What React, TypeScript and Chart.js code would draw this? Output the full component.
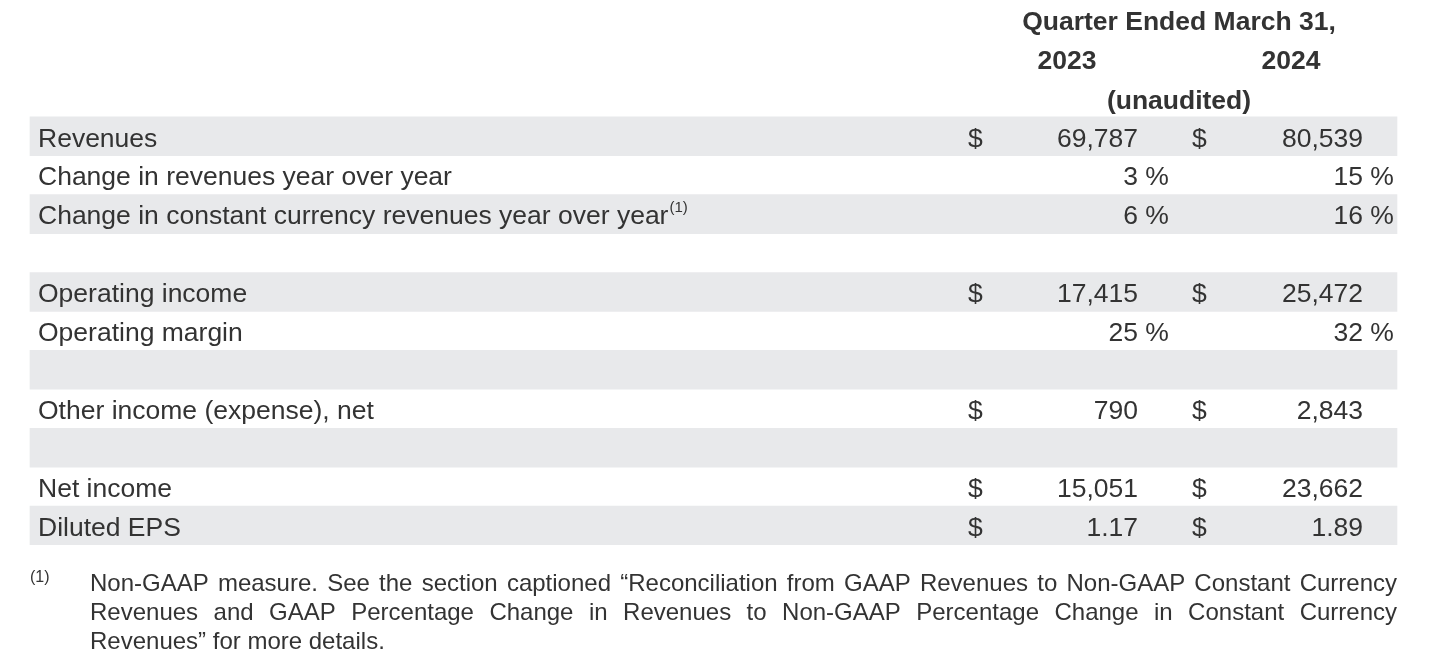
import React, { useEffect, useRef } from 'react';
import { Chart, registerables } from 'chart.js';

Chart.register(...registerables);

// ---- Data ----
const headerTitle = 'Quarter Ended March 31,';
const yearLabels = ['2023', '2024'];
const headerNote = '(unaudited)';

const rowLabels = [
  'Revenues',
  'Change in revenues year over year',
  'Change in constant currency revenues year over year',
  '',
  'Operating income',
  'Operating margin',
  '',
  'Other income (expense), net',
  '',
  'Net income',
  'Diluted EPS',
];
const rowFootnoteMark = [false, false, true, false, false, false, false, false, false, false, false];
const rowShaded = [true, false, true, false, true, false, true, false, true, false, true];
const rowUnits = ['$', '%', '%', '', '$', '%', '', '$', '', '$', '$'];
const rowDecimals = [0, 0, 0, 0, 0, 0, 0, 0, 0, 0, 2];
const values2023: (number | null)[] = [69787, 3, 6, null, 17415, 25, null, 790, null, 15051, 1.17];
const values2024: (number | null)[] = [80539, 15, 16, null, 25472, 32, null, 2843, null, 23662, 1.89];

const footnoteMark = '(1)';
const footnoteLines = [
  'Non-GAAP measure. See the section captioned \u201CReconciliation from GAAP Revenues to Non-GAAP Constant Currency',
  'Revenues and GAAP Percentage Change in Revenues to Non-GAAP Percentage Change in Constant Currency',
  'Revenues\u201D for more details.',
];

// ---- Layout (x positions in scale units == px) ----
const W = 1436;
const H = 668;
const HEADER_ROWS = 3;
const L = {
  bandLeft: 30,
  bandRight: 1397,
  labelX: 38,
  dollar1X: 968,
  value1Right: 1138,
  dollar2X: 1192,
  value2Right: 1363,
  year1Center: 1067,
  year2Center: 1291,
  headerCenter: 1179,
  footMarkX: 30,
  footLeft: 90,
  footRight: 1397,
};
const FONT = '"Liberation Sans", Arial, Helvetica, sans-serif';
const TEXT = '#333333';
const BAND = '#e8e9eb';
const FS = 26.5;
const DY = 3;

function fmt(v: number, dec: number) {
  return v.toLocaleString('en-US', { minimumFractionDigits: dec, maximumFractionDigits: dec });
}

const tablePlugin = {
  id: 'tableText',
  afterDraw(chart: any) {
    const { ctx, scales } = chart;
    const x = scales.x;
    const y = scales.y;
    const px = (v: number) => x.getPixelForValue(v);
    const py = (i: number) => y.getPixelForValue(i) + DY;
    ctx.save();
    ctx.fillStyle = TEXT;
    ctx.textBaseline = 'middle';

    // header
    ctx.font = `bold ${FS}px ${FONT}`;
    ctx.textAlign = 'center';
    ctx.fillText(headerTitle, px(L.headerCenter), py(0));
    ctx.fillText(yearLabels[0], px(L.year1Center), py(1));
    ctx.fillText(yearLabels[1], px(L.year2Center), py(1));
    ctx.fillText(headerNote, px(L.headerCenter), py(2) + 1);

    // rows
    rowLabels.forEach((label, i) => {
      const yy = py(i + HEADER_ROWS);
      ctx.font = `${FS}px ${FONT}`;
      ctx.textAlign = 'left';
      if (label) {
        ctx.fillText(label, px(L.labelX), yy);
        if (rowFootnoteMark[i]) {
          const w = ctx.measureText(label).width;
          ctx.font = `15px ${FONT}`;
          ctx.fillText(footnoteMark, px(L.labelX) + w + 1, yy - 9);
          ctx.font = `${FS}px ${FONT}`;
        }
      }
      const unit = rowUnits[i];
      const cols = [
        { v: values2023[i], d: L.dollar1X, r: L.value1Right },
        { v: values2024[i], d: L.dollar2X, r: L.value2Right },
      ];
      cols.forEach((c) => {
        if (c.v === null || c.v === undefined) return;
        if (unit === '$') {
          ctx.textAlign = 'left';
          ctx.fillText('$', px(c.d), yy);
        }
        ctx.textAlign = 'right';
        ctx.fillText(fmt(c.v, rowDecimals[i]), px(c.r), yy);
        if (unit === '%') {
          ctx.textAlign = 'left';
          ctx.fillText(' %', px(c.r), yy);
        }
      });
    });

    // footnote
    const base = chart.chartArea.bottom;
    ctx.font = `16px ${FONT}`;
    ctx.textAlign = 'left';
    ctx.fillText(footnoteMark, px(L.footMarkX), base + 33);
    ctx.font = `24px ${FONT}`;
    const left = px(L.footLeft);
    const right = px(L.footRight);
    footnoteLines.forEach((line, li) => {
      const yy = base + 39 + li * 29;
      if (li === footnoteLines.length - 1) {
        ctx.fillText(line, left, yy);
        return;
      }
      const words = line.split(' ');
      const widths = words.map((w) => ctx.measureText(w).width);
      const total = widths.reduce((a, b) => a + b, 0);
      const gap = (right - left - total) / (words.length - 1);
      let cx = left;
      words.forEach((w, wi) => {
        ctx.fillText(w, cx, yy);
        cx += widths[wi] + gap;
      });
    });
    ctx.restore();
  },
};

export default function App() {
  const ref = useRef<HTMLCanvasElement | null>(null);
  useEffect(() => {
    if (!ref.current) return;
    const labels = [...Array(HEADER_ROWS).fill(''), ...rowLabels].map((l, i) => `${i}:${l}`);
    const bands = [
      ...Array(HEADER_ROWS).fill(null),
      ...rowShaded.map((s) => (s ? [L.bandLeft, L.bandRight] : null)),
    ];
    const chart = new Chart(ref.current, {
      type: 'bar',
      data: {
        labels,
        datasets: [
          {
            data: bands as any,
            backgroundColor: BAND,
            borderWidth: 0,
            barPercentage: 1,
            categoryPercentage: 1,
          },
        ],
      },
      options: {
        indexAxis: 'y',
        animation: false,
        responsive: false,
        maintainAspectRatio: false,
        layout: { padding: { left: 0, right: 0, top: 0, bottom: 123 } },
        plugins: { legend: { display: false }, tooltip: { enabled: false }, title: { display: false } },
        scales: {
          x: { type: 'linear', min: 0, max: W, display: false },
          y: { type: 'category', display: false, grid: { display: false } },
        },
      },
      plugins: [tablePlugin],
    });
    return () => chart.destroy();
  }, []);
  return (
    <div style={{ position: 'fixed', left: 0, top: 0, width: W, height: H, background: '#fff' }}>
      <canvas ref={ref} width={W} height={H} style={{ display: 'block' }} />
    </div>
  );
}
